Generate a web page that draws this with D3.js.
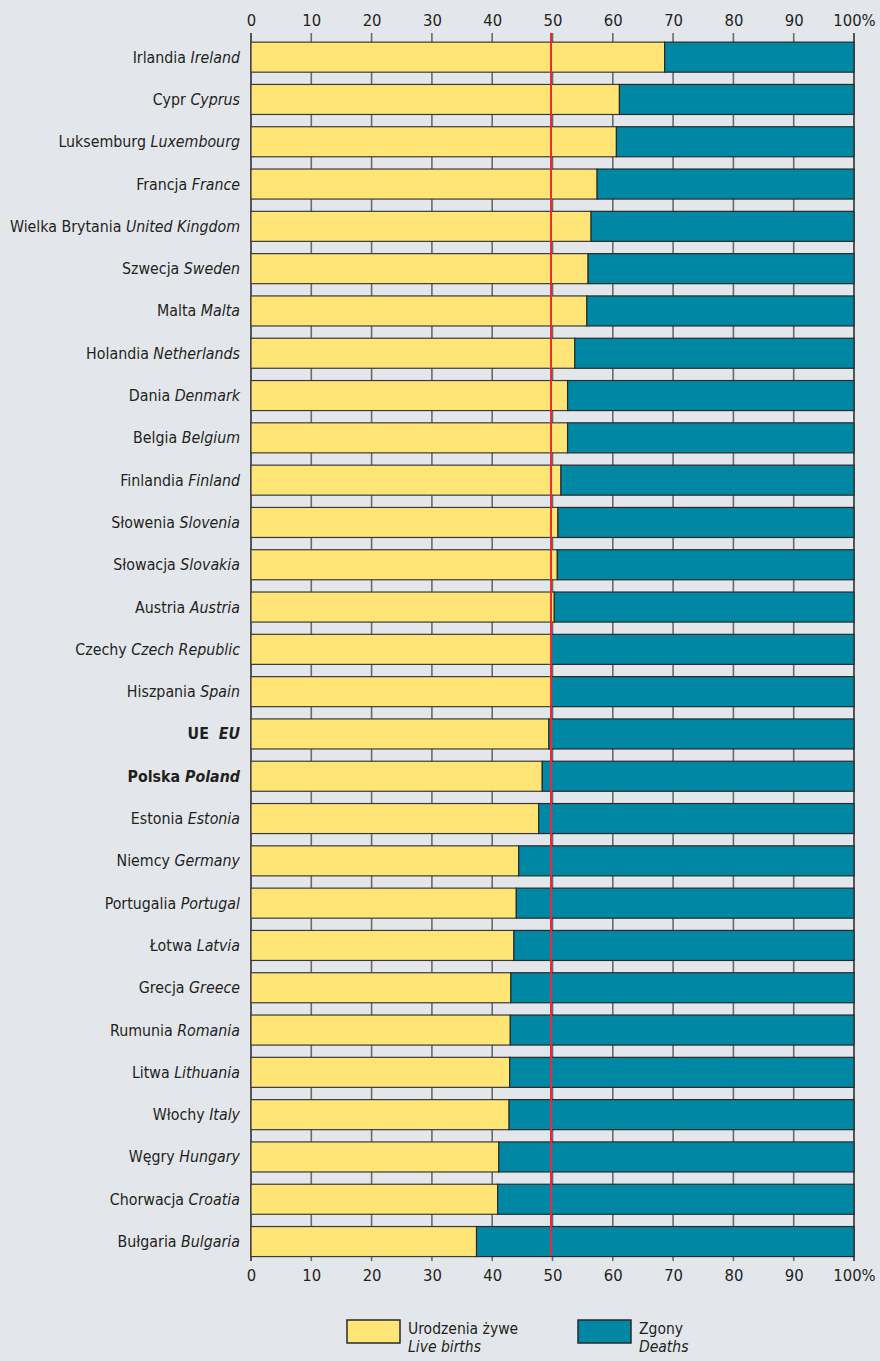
<!DOCTYPE html>
<html>
<head>
<meta charset="utf-8">
<script src="https://cdn.jsdelivr.net/npm/d3@7"></script>
<style>
  body { margin: 0; background: #e3e7ec; }
  svg { display: block; font-family: "Liberation Sans Narrow", "DejaVu Sans Condensed", sans-serif; }
  .lbl { font-size: 15.8px; fill: #231f20; }
  .tick text { font-size: 16.5px; fill: #231f20; }
</style>
</head>
<body>
<svg width="880" height="1361"></svg>
<script>
// country labels: Polish name + English name (italic)
let namesPl = ["Irlandia", "Cypr", "Luksemburg", "Francja", "Wielka Brytania", "Szwecja", "Malta",
    "Holandia", "Dania", "Belgia", "Finlandia", "Słowenia", "Słowacja", "Austria", "Czechy",
    "Hiszpania", "UE", "Polska", "Estonia", "Niemcy", "Portugalia", "Łotwa", "Grecja",
    "Rumunia", "Litwa", "Włochy", "Węgry", "Chorwacja", "Bułgaria"];
let namesEn = ["Ireland", "Cyprus", "Luxembourg", "France", "United Kingdom", "Sweden", "Malta",
    "Netherlands", "Denmark", "Belgium", "Finland", "Slovenia", "Slovakia", "Austria", "Czech Republic",
    "Spain", "EU", "Poland", "Estonia", "Germany", "Portugal", "Latvia", "Greece",
    "Romania", "Lithuania", "Italy", "Hungary", "Croatia", "Bulgaria"];
let boldRows = ["UE", "Polska"];

// share of live births in (births + deaths), %
let liveBirths = [68.6, 61.1, 60.6, 57.4, 56.4, 55.9, 55.7,
    53.7, 52.5, 52.5, 51.4, 50.9, 50.8, 50.3, 49.8,
    49.7, 49.4, 48.3, 47.7, 44.4, 44.0, 43.6, 43.1,
    43.0, 42.9, 42.8, 41.1, 40.9, 37.4];
let deaths = liveBirths.map(function(v) { return 100 - v; });

let tickValues = [0, 10, 20, 30, 40, 50, 60, 70, 80, 90, 100];
let tickLabels = ["0", "10", "20", "30", "40", "50", "60", "70", "80", "90", "100%"];

let legendLabels = [["Urodzenia żywe", "Live births"], ["Zgony", "Deaths"]];

let colors = {births: "#ffe476", deaths: "#0087a4"};

let svg = d3.select("svg");

let x = d3.scaleLinear().domain([0, 100]).range([251, 854]);
let y = d3.scaleBand()
    .domain(namesPl)
    .range([36, 36 + 42.3 * namesPl.length])
    .paddingInner(0.29)
    .paddingOuter(0.145);

let gridTop = 33, gridBottom = 1261;

// vertical grid lines
svg.append("g")
    .selectAll("line")
    .data(tickValues)
    .enter().append("line")
    .attr("x1", function(d) { return x(d); })
    .attr("x2", function(d) { return x(d); })
    .attr("y1", gridTop)
    .attr("y2", gridBottom)
    .attr("stroke", function(d) { return d === 0 || d === 100 ? "#555" : "#6b6b6b"; })
    .attr("stroke-width", function(d) { return d === 0 || d === 100 ? 2 : 1.6; });

// axes (labels only)
let fmt = function(d) { return tickLabels[tickValues.indexOf(d)]; };
let axTop = svg.append("g")
    .attr("transform", "translate(0," + gridTop + ")")
    .call(d3.axisTop(x).tickValues(tickValues).tickFormat(fmt).tickSize(0).tickPadding(7));
let axBottom = svg.append("g")
    .attr("transform", "translate(0," + gridBottom + ")")
    .call(d3.axisBottom(x).tickValues(tickValues).tickFormat(fmt).tickSize(0).tickPadding(8));
[axTop, axBottom].forEach(function(a) {
    a.select(".domain").remove();
    a.attr("font-family", null).attr("font-size", null);
});

// bars
let rows = svg.append("g")
    .selectAll("g")
    .data(namesPl)
    .enter().append("g");

rows.append("rect")
    .attr("x", x(0))
    .attr("y", function(d) { return y(d); })
    .attr("width", function(d, i) { return x(liveBirths[i]) - x(0); })
    .attr("height", y.bandwidth())
    .attr("fill", colors.births)
    .attr("stroke", "#3a3a3a")
    .attr("stroke-width", 1.2);

rows.append("rect")
    .attr("x", function(d, i) { return x(liveBirths[i]); })
    .attr("y", function(d) { return y(d); })
    .attr("width", function(d, i) { return x(100) - x(100 - deaths[i]); })
    .attr("height", y.bandwidth())
    .attr("fill", colors.deaths)
    .attr("stroke", "#2a2a2a")
    .attr("stroke-width", 1.2);

// 50% reference line
svg.append("line")
    .attr("x1", x(50) - 1.5)
    .attr("x2", x(50) - 1.5)
    .attr("y1", gridTop)
    .attr("y2", gridBottom - 5)
    .attr("stroke", "#ec2a2f")
    .attr("stroke-width", 2);

// row labels
let lbl = svg.append("g")
    .selectAll("text")
    .data(namesPl)
    .enter().append("text")
    .attr("class", "lbl")
    .attr("x", 240)
    .attr("y", function(d) { return y(d) + y.bandwidth() / 2; })
    .attr("dy", "0.35em")
    .attr("text-anchor", "end")
    .attr("font-weight", function(d) { return boldRows.indexOf(d) >= 0 ? "bold" : null; });
lbl.append("tspan").text(function(d) { return d + (d === "UE" ? "\u00a0\u00a0" : " "); });
lbl.append("tspan")
    .attr("font-style", "italic")
    .text(function(d, i) { return namesEn[i]; });

// legend
let legend = svg.append("g").attr("transform", "translate(0,1320)");
let legX = [347, 578];
let legFill = [colors.births, colors.deaths];
legendLabels.forEach(function(l, i) {
    legend.append("rect")
        .attr("x", legX[i]).attr("y", 0)
        .attr("width", 53).attr("height", 23)
        .attr("fill", legFill[i])
        .attr("stroke", "#2a2a2a").attr("stroke-width", 1.5);
    legend.append("text")
        .attr("x", legX[i] + 61)
        .attr("y", 14)
        .attr("font-size", 15.5)
        .attr("fill", "#231f20")
        .text(l[0]);
    legend.append("text")
        .attr("x", legX[i] + 61)
        .attr("y", 32)
        .attr("font-size", 15.5)
        .attr("font-style", "italic")
        .attr("fill", "#231f20")
        .text(l[1]);
});
</script>
</body>
</html>
